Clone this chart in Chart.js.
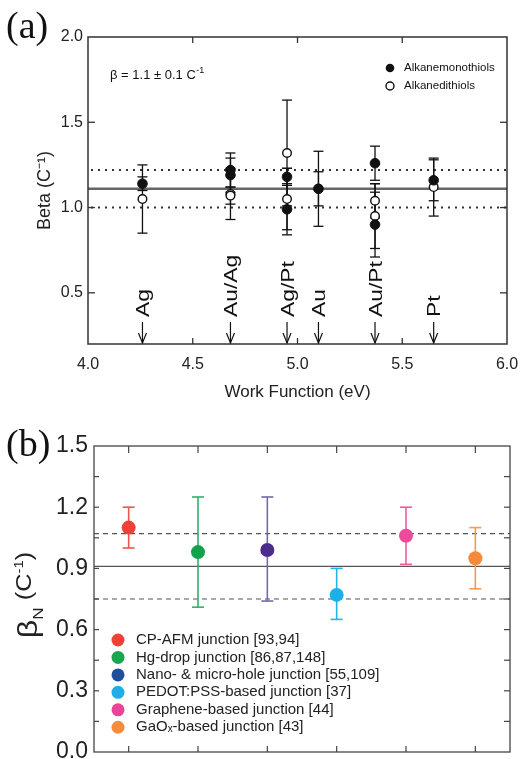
<!DOCTYPE html>
<html><head><meta charset="utf-8">
<script src="https://cdn.jsdelivr.net/npm/chart.js@4.4.1/dist/chart.umd.min.js"></script>
<style>
html,body{margin:0;padding:0;background:#fff;width:521px;height:759px;overflow:hidden;}
canvas{position:absolute;left:0;}
#ca{top:0;} #cb{top:400px;}
</style></head><body>
<canvas id="ca" width="521" height="410"></canvas>
<canvas id="cb" width="521" height="359"></canvas>
<script>
const FONT = "'Liberation Sans', Arial, Helvetica, sans-serif";
const SERIF = "'Liberation Serif', 'Times New Roman', serif";
Chart.defaults.font.family = FONT;
Chart.defaults.color = '#222';

// ----- Panel (a) data -----
const metals = ['Ag', 'Au/Ag', 'Ag/Pt', 'Au', 'Au/Pt', 'Pt'];
const metalWorkFunction = [4.26, 4.68, 4.95, 5.10, 5.37, 5.65];
const monoX    = [4.26, 4.68, 4.68, 4.95, 4.95, 5.10, 5.37, 5.37, 5.65];
const monoBeta = [1.14, 1.22, 1.19, 1.18, 0.99, 1.11, 1.26, 0.90, 1.16];
const monoErr  = [0.04, 0.10, 0.10, 0.05, 0.15, 0.22, 0.10, 0.19, 0.12];
const diX      = [4.26, 4.68, 4.68, 4.95, 4.95, 5.10, 5.37, 5.37, 5.65];
const diBeta   = [1.05, 1.08, 1.07, 1.32, 1.05, 1.11, 1.04, 0.95, 1.12];
const diErr    = [0.20, 0.15, 0.05, 0.31, 0.18, 0.10, 0.10, 0.19, 0.17];
const betaMeanA = 1.11;
const betaBandA = [1.00, 1.22];
const xTicksA = [4.0, 4.5, 5.0, 5.5, 6.0];
const yTicksA = [0.5, 1.0, 1.5, 2.0];
const seriesNamesA = ['Alkanemonothiols', 'Alkanedithiols'];

// ----- Panel (b) data -----
const junctions = ['CP-AFM junction [93,94]', 'Hg-drop junction [86,87,148]', 'Nano- & micro-hole junction [55,109]', 'PEDOT:PSS-based junction [37]', 'Graphene-based junction [44]', 'GaO\u2093-based junction [43]'];
const betaN     = [1.10, 0.98, 0.99, 0.77, 1.06, 0.95];
const betaNHigh = [1.20, 1.25, 1.25, 0.90, 1.20, 1.10];
const betaNLow  = [1.00, 0.71, 0.74, 0.65, 0.92, 0.80];
const betaNMean = 0.91;
const betaNBand = [0.75, 1.07];
const yTicksB = [0.0, 0.3, 0.6, 0.9, 1.2, 1.5];
const yMinorStepB = 0.15;
const markerColors = ['#ef4136', '#12a24d', '#4b2c8c', '#1cb1e6', '#ec4a9a', '#f7893a'];
const barColors    = ['#e9574f', '#2fb26a', '#7a64b6', '#22b5e6', '#ef5ba3', '#f69a4c'];
const legendColors = ['#ef4136', '#1aa650', '#1f4f9c', '#21aee8', '#ec4399', '#f68b3b'];

function seg(ctx, x1, y1, x2, y2) { ctx.beginPath(); ctx.moveTo(x1, y1); ctx.lineTo(x2, y2); ctx.stroke(); }

// ---------- Panel (a) ----------
const plugA = {
  id: 'plugA',
  beforeDatasetsDraw(chart) {
    const { ctx, chartArea: ca, scales: { x, y } } = chart;
    ctx.save();
    ctx.strokeStyle = '#666'; ctx.lineWidth = 2.4;
    seg(ctx, ca.left, y.getPixelForValue(betaMeanA), ca.right, y.getPixelForValue(betaMeanA));
    ctx.strokeStyle = '#333'; ctx.lineWidth = 2; ctx.setLineDash([2, 5]);
    betaBandA.forEach(v => seg(ctx, ca.left + 3, y.getPixelForValue(v), ca.right, y.getPixelForValue(v)));
    ctx.setLineDash([]);
    ctx.strokeStyle = '#111'; ctx.lineWidth = 1.3;
    const bars = (xs, ys, es) => xs.forEach((xv, i) => {
      const px = x.getPixelForValue(xv);
      const t = y.getPixelForValue(ys[i] + es[i]), b = y.getPixelForValue(ys[i] - es[i]);
      seg(ctx, px, t, px, b); seg(ctx, px - 5, t, px + 5, t); seg(ctx, px - 5, b, px + 5, b);
    });
    bars(diX, diBeta, diErr); bars(monoX, monoBeta, monoErr);
    ctx.restore();
  },
  afterDraw(chart) {
    const { ctx, chartArea: ca, scales: { x, y } } = chart;
    ctx.save();
    ctx.strokeStyle = '#333'; ctx.lineWidth = 1.5;
    ctx.strokeRect(ca.left, ca.top, ca.right - ca.left, ca.bottom - ca.top);
    ctx.lineWidth = 1.3;
    xTicksA.slice(1, -1).forEach(v => { const px = x.getPixelForValue(v);
      seg(ctx, px, ca.top, px, ca.top + 6); seg(ctx, px, ca.bottom, px, ca.bottom - 6); });
    yTicksA.slice(0, -1).forEach(v => { const py = y.getPixelForValue(v);
      seg(ctx, ca.left, py, ca.left + 7, py); seg(ctx, ca.right, py, ca.right - 7, py); });
    // metal labels + arrows
    ctx.fillStyle = '#111'; ctx.strokeStyle = '#111'; ctx.lineWidth = 1.2;
    metals.forEach((m, i) => {
      const px = x.getPixelForValue(metalWorkFunction[i]);
      const bot = ca.bottom;
      seg(ctx, px, bot - 22, px, bot - 1);
      ctx.beginPath(); ctx.moveTo(px - 4, bot - 11); ctx.lineTo(px, bot - 1); ctx.lineTo(px + 4, bot - 11); ctx.stroke();
      ctx.save();
      ctx.translate(px + 6.5, bot - 27);
      ctx.rotate(-Math.PI / 2);
      ctx.scale(1.2, 1);
      ctx.font = '19px ' + FONT; ctx.textAlign = 'left'; ctx.textBaseline = 'alphabetic';
      ctx.fillText(m, 0, 0);
      ctx.restore();
    });
    // annotation
    ctx.font = '13px ' + FONT; ctx.textBaseline = 'alphabetic'; ctx.textAlign = 'left';
    const s = '\u03b2 = 1.1 \u00b1 0.1 C';
    ctx.fillText(s, 110, 79);
    const w = ctx.measureText(s).width;
    ctx.font = '9px ' + FONT; ctx.fillText('-1', 110 + w + 0.5, 73);
    // legend
    ctx.font = '11.5px ' + FONT; ctx.textBaseline = 'middle';
    ctx.fillStyle = '#111';
    ctx.beginPath(); ctx.arc(390, 68, 4.3, 0, Math.PI * 2); ctx.fill();
    ctx.fillText(seriesNamesA[0], 404, 68);
    ctx.lineWidth = 1.4; ctx.fillStyle = '#fff';
    ctx.beginPath(); ctx.arc(390, 86, 4, 0, Math.PI * 2); ctx.fill(); ctx.stroke();
    ctx.fillStyle = '#111'; ctx.fillText(seriesNamesA[1], 404, 86);
    // panel letter
    ctx.font = '38px ' + SERIF; ctx.textBaseline = 'alphabetic';
    ctx.fillText('(a)', 6, 38);
    ctx.restore();
  }
};

new Chart(document.getElementById('ca'), {
  type: 'scatter',
  data: { datasets: [
    { label: seriesNamesA[0], data: monoX.map((v, i) => ({ x: v, y: monoBeta[i] })),
      pointRadius: 4.8, backgroundColor: '#111', borderColor: '#111', borderWidth: 1 },
    { label: seriesNamesA[1], data: diX.map((v, i) => ({ x: v, y: diBeta[i] })),
      pointRadius: 4.3, backgroundColor: '#fff', borderColor: '#111', borderWidth: 1.4 }
  ]},
  options: {
    responsive: false, animation: false, devicePixelRatio: 1,
    layout: { padding: { left: 30, right: 14, top: 37, bottom: 0 } },
    plugins: { legend: { display: false }, tooltip: { enabled: false } },
    scales: {
      x: { type: 'linear', min: 4, max: 6,
        afterBuildTicks: s => { s.ticks = xTicksA.map(v => ({ value: v })); },
        afterFit: s => { s.height = 66; s.paddingLeft = 0; s.paddingRight = 0; },
        ticks: { callback: v => Number(v).toFixed(1), font: { size: 16 }, color: '#222', padding: 11, maxRotation: 0, autoSkip: false },
        grid: { display: false, drawTicks: false }, border: { display: false },
        title: { display: true, text: 'Work Function (eV)', font: { size: 17 }, color: '#222', padding: { top: 0, bottom: 7 } } },
      y: { type: 'linear', min: 0.2, max: 2.0,
        afterBuildTicks: s => { s.ticks = yTicksA.map(v => ({ value: v })); },
        afterFit: s => { s.width = 58; s.paddingTop = 0; s.paddingBottom = 0; },
        ticks: { callback: v => Number(v).toFixed(1), font: { size: 16 }, color: '#222', padding: 5, autoSkip: false },
        grid: { display: false, drawTicks: false }, border: { display: false },
        title: { display: true, text: 'Beta (C\u207b\u00b9)', font: { size: 18 }, color: '#222', padding: { top: 4, bottom: 0 } } }
    }
  },
  plugins: [plugA]
});

// ---------- Panel (b) ----------
const plugB = {
  id: 'plugB',
  beforeDatasetsDraw(chart) {
    const { ctx, chartArea: ca, scales: { x, y } } = chart;
    ctx.save();
    ctx.strokeStyle = '#555'; ctx.lineWidth = 1.2; ctx.setLineDash([5, 4]);
    betaNBand.forEach(v => seg(ctx, ca.left, y.getPixelForValue(v), ca.right, y.getPixelForValue(v)));
    ctx.setLineDash([]); ctx.strokeStyle = '#555'; ctx.lineWidth = 1.3;
    seg(ctx, ca.left, y.getPixelForValue(betaNMean), ca.right, y.getPixelForValue(betaNMean));
    ctx.lineWidth = 1.6;
    junctions.forEach((j, i) => {
      const px = x.getPixelForValue(i);
      const t = y.getPixelForValue(betaNHigh[i]), b = y.getPixelForValue(betaNLow[i]);
      ctx.strokeStyle = barColors[i];
      seg(ctx, px, t, px, b); seg(ctx, px - 6, t, px + 6, t); seg(ctx, px - 6, b, px + 6, b);
    });
    ctx.restore();
  },
  afterDraw(chart) {
    const { ctx, chartArea: ca, scales: { x, y } } = chart;
    ctx.save();
    ctx.strokeStyle = '#444'; ctx.lineWidth = 1.3;
    ctx.strokeRect(ca.left, ca.top, ca.right - ca.left, ca.bottom - ca.top);
    ctx.lineWidth = 1.2;
    junctions.forEach((j, i) => { const px = x.getPixelForValue(i);
      seg(ctx, px, ca.top, px, ca.top + 7); seg(ctx, px, ca.bottom, px, ca.bottom - 6); });
    for (let v = yMinorStepB; v < 1.5 - 1e-6; v += yMinorStepB) {
      const py = y.getPixelForValue(v);
      seg(ctx, ca.left, py, ca.left + 5, py); seg(ctx, ca.right, py, ca.right - 6, py);
    }
    // legend
    ctx.font = '15px ' + FONT; ctx.textBaseline = 'middle'; ctx.textAlign = 'left';
    junctions.forEach((j, i) => {
      const cy = 240 + i * 17.45;
      ctx.fillStyle = legendColors[i];
      ctx.beginPath(); ctx.arc(118, cy, 6.5, 0, Math.PI * 2); ctx.fill();
      ctx.fillStyle = '#222';
      ctx.fillText(j, 136, cy);
    });
    // y title  beta_N (C^-1)
    ctx.save();
    ctx.translate(0, 195);
    ctx.rotate(-Math.PI / 2);
    ctx.scale(1.15, 1);
    ctx.fillStyle = '#222';
    const parts = [
      { t: '\u03b2', f: '28px ', v: 37 },
      { t: 'N', f: '15px ', v: 43 },
      { t: ' (C', f: '22px ', v: 31 },
      { t: '-1', f: '13px ', v: 23 },
      { t: ')', f: '22px ', v: 31 }
    ];
    let total = 0;
    parts.forEach(p => { ctx.font = p.f + FONT; p.w = ctx.measureText(p.t).width; total += p.w; });
    let u = -total / 2;
    ctx.textAlign = 'left'; ctx.textBaseline = 'alphabetic';
    parts.forEach(p => { ctx.font = p.f + FONT; ctx.fillText(p.t, u, p.v); u += p.w; });
    ctx.restore();
    // panel letter
    ctx.fillStyle = '#111';
    ctx.font = '38px ' + SERIF; ctx.textBaseline = 'alphabetic';
    ctx.fillText('(b)', 6, 56);
    ctx.restore();
  }
};

new Chart(document.getElementById('cb'), {
  type: 'line',
  data: { labels: junctions, datasets: [{
    label: 'betaN', data: betaN, showLine: false,
    pointRadius: 7, pointBackgroundColor: markerColors, pointBorderColor: markerColors, pointBorderWidth: 0
  }]},
  options: {
    responsive: false, animation: false, devicePixelRatio: 1,
    layout: { padding: { left: 0, right: 11, top: 46, bottom: 6 } },
    plugins: { legend: { display: false }, tooltip: { enabled: false } },
    scales: {
      x: { type: 'category', display: false, offset: true },
      y: { type: 'linear', min: 0, max: 1.5,
        afterBuildTicks: s => { s.ticks = yTicksB.map(v => ({ value: v })); },
        afterFit: s => { s.width = 94; s.paddingTop = 0; s.paddingBottom = 0; },
        ticks: { callback: v => Number(v).toFixed(1), font: { size: 23 }, color: '#222', padding: 6, autoSkip: false },
        grid: { display: false, drawTicks: false }, border: { display: false } }
    }
  },
  plugins: [plugB]
});
</script></body></html>
